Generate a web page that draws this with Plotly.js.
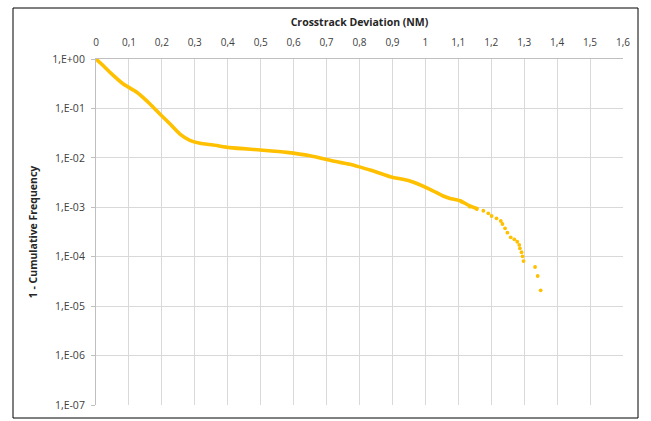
<!DOCTYPE html>
<html>
<head>
<meta charset="utf-8">
<script src="https://cdn.plot.ly/plotly-3.0.1.min.js"></script>
<style>html,body{margin:0;padding:0;background:#fff;}#chart{width:651px;height:421px;}</style>
</head>
<body>
<div id="chart"></div>
<script>
// Dense part of the curve (reads as a continuous thick line)
const denseX = [0, 0.02, 0.0425, 0.083, 0.124, 0.164, 0.194, 0.225, 0.255, 0.285, 0.316, 0.356, 0.407, 0.498, 0.579, 0.65, 0.72, 0.771, 0.791, 0.832, 0.893, 0.953, 1.014, 1.054, 1.075, 1.105, 1.135, 1.161];
const denseY = [1.0, 0.756, 0.538, 0.312, 0.212, 0.123, 0.077, 0.0483, 0.0303, 0.0226, 0.0197, 0.0182, 0.0161, 0.0144, 0.0129, 0.0110, 0.0086, 0.0074, 0.0068, 0.00568, 0.00416, 0.0034, 0.00231, 0.00169, 0.00151, 0.00136, 0.00107, 0.00092];
// Tail: individually visible points
const tailX = [1.110, 1.135, 1.156, 1.176, 1.191, 1.201, 1.216, 1.229, 1.234, 1.242, 1.249, 1.259, 1.270, 1.279, 1.285, 1.287, 1.292, 1.295, 1.298, 1.333, 1.341, 1.350];
const tailY = [0.0013, 0.00103, 0.00092, 0.00085, 0.000755, 0.000667, 0.000598, 0.000528, 0.000459, 0.000376, 0.000306, 0.000247, 0.000225, 0.000201, 0.000173, 0.000148, 0.000123, 0.000102, 0.0000818, 0.0000619, 0.0000407, 0.0000209];

const xTickVals = [0, 0.1, 0.2, 0.3, 0.4, 0.5, 0.6, 0.7, 0.8, 0.9, 1, 1.1, 1.2, 1.3, 1.4, 1.5, 1.6];
const xTickText = ['0', '0,1', '0,2', '0,3', '0,4', '0,5', '0,6', '0,7', '0,8', '0,9', '1', '1,1', '1,2', '1,3', '1,4', '1,5', '1,6'];
const yTickVals = [1, 0.1, 0.01, 0.001, 0.0001, 0.00001, 0.000001, 0.0000001];
const yTickText = ['1,E+00', '1,E-01', '1,E-02', '1,E-03', '1,E-04', '1,E-05', '1,E-06', '1,E-07'];

const gold = '#FFC000';
const font = 'Open Sans, Noto Sans, sans-serif';

const traces = [
  {x: denseX, y: denseY, mode: 'lines', type: 'scatter',
   line: {color: gold, width: 3.6, shape: 'spline', smoothing: 0.6}, hoverinfo: 'skip'},
  {x: tailX, y: tailY, mode: 'markers', type: 'scatter',
   marker: {color: gold, size: 3.8}, hoverinfo: 'skip'}
];

const W = 527, H = 346, L = 96, T = 59;
const layout = {
  width: 651, height: 421,
  margin: {l: L, r: 28, t: T, b: 16, pad: 0},
  paper_bgcolor: '#fff', plot_bgcolor: '#fff',
  showlegend: false,
  font: {family: font, size: 9, color: '#404040'},
  xaxis: {
    side: 'top', range: [0, 1.6], tickvals: xTickVals, ticktext: xTickText,
    showgrid: true, gridcolor: '#d9d9d9', gridwidth: 1,
    showline: true, linecolor: '#bfbfbf', linewidth: 1, mirror: false,
    zeroline: false, ticks: '', ticklabelstandoff: 8,
    tickfont: {family: font, size: 10, color: '#404040'},
    title: {text: 'Crosstrack Deviation (NM)', font: {family: font, size: 10.5, color: '#262626', weight: 'bold'}, standoff: 6}
  },
  yaxis: {
    type: 'log', range: [-7, 0], tickvals: yTickVals, ticktext: yTickText,
    showgrid: true, gridcolor: '#d9d9d9', gridwidth: 1,
    showline: true, linecolor: '#bfbfbf', linewidth: 1,
    zeroline: false, ticks: 'outside', ticklen: 4, tickcolor: '#bfbfbf',
    ticklabelstandoff: 4,
    tickfont: {family: font, size: 10.5, color: '#404040'},
    title: {text: '1 - Cumulative Frequency', font: {family: font, size: 10.5, color: '#262626', weight: 'bold'}, standoff: 12}
  },
  shapes: [{
    type: 'rect', xref: 'paper', yref: 'paper',
    x0: (13 - L) / W, x1: (638 - L) / W,
    y0: (405 - 418) / H, y1: (405 - 8) / H,
    line: {color: '#000', width: 1}, fillcolor: 'rgba(0,0,0,0)'
  }]
};

Plotly.newPlot('chart', traces, layout, {displayModeBar: false, staticPlot: true});
</script>
</body>
</html>
